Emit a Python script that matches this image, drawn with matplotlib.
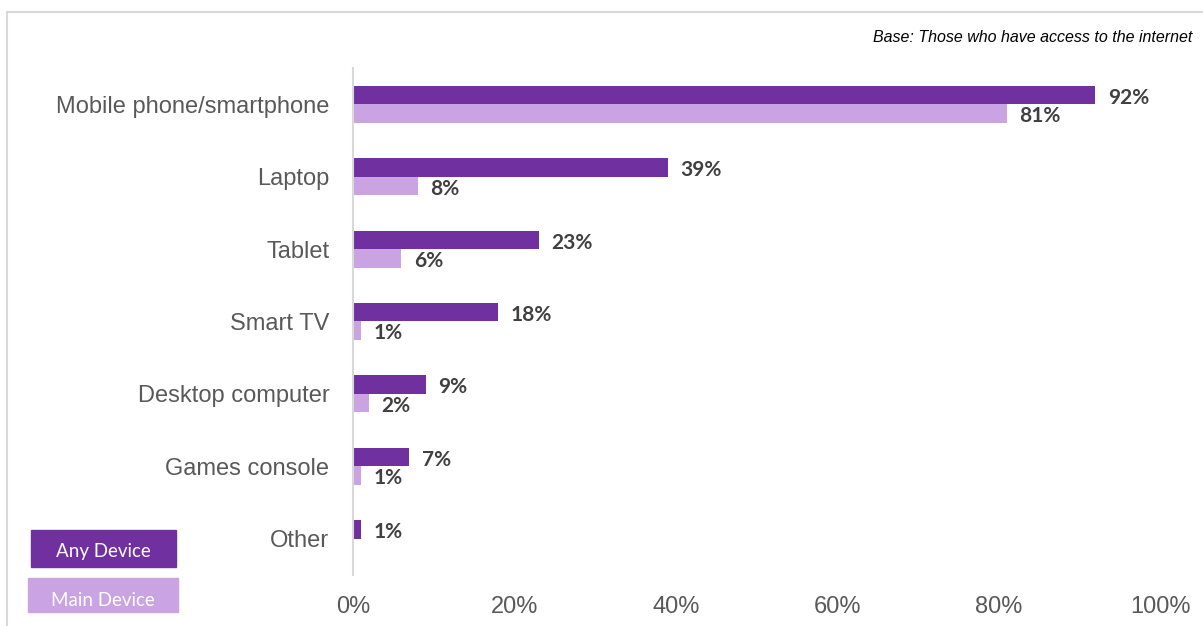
import matplotlib
matplotlib.use("Agg")
import numpy as np
from matplotlib import pyplot as plt
from matplotlib.lines import Line2D
from matplotlib.patches import Rectangle

# device usage among people with internet access
categories = ["Mobile phone/smartphone", "Laptop", "Tablet", "Smart TV",
              "Desktop computer", "Games console", "Other"]
any_device = [92, 39, 23, 18, 9, 7, 1]
main_device = [81, 8, 6, 1, 2, 1, None]
ticks = [0, 20, 40, 60, 80, 100]

dark = "#7030A0"
light = "#C9A3E2"
grey_txt = "#595959"
lab_txt = "#404040"

fig = plt.figure(figsize=(12.03, 6.26), dpi=100)
ax = fig.add_axes([0.2934, 0.0815, 0.6709, 0.8099])

y = np.arange(len(categories))
h = 0.255
for i, v in enumerate(any_device):
    ax.barh(y[i] - h / 2, v, height=h, color=dark)
    ax.annotate(f"{v}%", (v, y[i] - h / 2), xytext=(9, -2), textcoords="offset points",
                va="center", ha="left", fontsize=15, fontweight="bold",
                color=lab_txt, family="Lato")
for i, v in enumerate(main_device):
    if v is None:
        continue
    ax.barh(y[i] + h / 2, v, height=h, color=light)
    ax.annotate(f"{v}%", (v, y[i] + h / 2), xytext=(9, -2), textcoords="offset points",
                va="center", ha="left", fontsize=15, fontweight="bold",
                color=lab_txt, family="Lato")

ax.set_xlim(0, 100)
ax.set_ylim(6.5, -0.5)
ax.set_yticks(y)
ax.set_yticklabels(categories, fontsize=17, color=grey_txt, family="Liberation Sans")
ax.set_xticks(ticks)
ax.set_xticklabels([f"{t}%" for t in ticks], fontsize=17, color=grey_txt,
                   family="Liberation Sans")
ax.tick_params(axis="y", length=0, pad=17)
ax.tick_params(axis="x", length=0, pad=15)
for s in ["top", "right", "bottom"]:
    ax.spines[s].set_visible(False)
ax.spines["left"].set_color("#d9d9d9")
ax.spines["left"].set_linewidth(1.5)

# outer frame, left and top edges only
fig.add_artist(Line2D([7 / 1203, 7 / 1203], [0, 1 - 12 / 626], color="#d9d9d9", lw=1.5))
fig.add_artist(Line2D([7 / 1203, 1], [1 - 12 / 626, 1 - 12 / 626], color="#d9d9d9", lw=1.5))

fig.text(1192 / 1203, 1 - 38 / 626, "Base: Those who have access to the internet",
         ha="right", va="center", fontsize=11.5, style="italic", family="Liberation Sans")

# legend boxes
fig.add_artist(Rectangle((31 / 1203, 1 - 567 / 626), 145 / 1203, 37 / 626,
                         transform=fig.transFigure, color=dark))
fig.text(103.5 / 1203, 1 - 551 / 626, "Any Device", ha="center", va="center",
         color="white", fontsize=13.5, family="Lato")
fig.add_artist(Rectangle((28 / 1203, 1 - 612 / 626), 150 / 1203, 34 / 626,
                         transform=fig.transFigure, color=light))
fig.text(103 / 1203, 1 - 601 / 626, "Main Device", ha="center", va="center",
         color="white", fontsize=13.5, family="Lato")

fig.savefig("out.png", dpi=100)
